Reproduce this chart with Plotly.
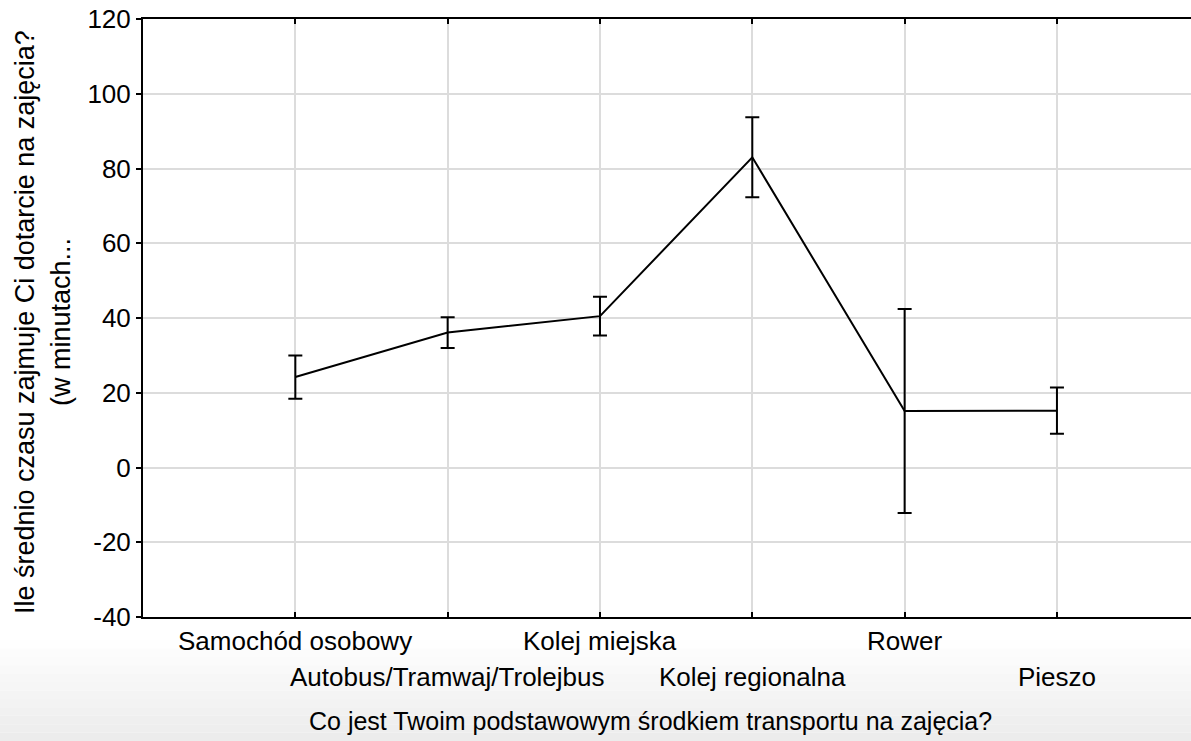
import plotly.graph_objects as go

categories = ["Samochód osobowy", "Autobus/Tramwaj/Trolejbus", "Kolej miejska",
              "Kolej regionalna", "Rower", "Pieszo"]
means = [24.2, 36.1, 40.5, 83.0, 15.1, 15.2]
errors = [5.8, 4.1, 5.2, 10.7, 27.3, 6.2]
y_ticks = [-40, -20, 0, 20, 40, 60, 80, 100, 120]
x_title = "Co jest Twoim podstawowym środkiem transportu na zajęcia?"
y_title_lines = ["Ile średnio czasu zajmuje Ci dotarcie na zajęcia?", "(w minutach..."]

positions = list(range(1, len(categories) + 1))
FONT = "Liberation Sans, Arial, sans-serif"
FS = 26

fig = go.Figure()
fig.add_trace(go.Scatter(
    x=positions, y=means, mode="lines",
    line=dict(color="black", width=2),
    error_y=dict(type="data", array=errors, visible=True,
                 color="black", thickness=2, width=7),
    showlegend=False, hoverinfo="skip",
))

shapes = []
# faint grey gradient at the bottom of the page
n = 12
top_px, bot_px = 640, 741
plot_top, plot_bot = 19, 617
h = plot_bot - plot_top
for i in range(n):
    y0p = top_px + (bot_px - top_px) * i / n
    y1p = top_px + (bot_px - top_px) * (i + 1) / n
    g = int(255 - (255 - 236) * (i + 0.5) / n)
    shapes.append(dict(type="rect", xref="paper", yref="paper",
                       x0=-0.2, x1=1.05,
                       y0=-(y1p - plot_bot) / h, y1=-(y0p - plot_bot) / h,
                       fillcolor=f"rgb({g},{g},{g})", line=dict(width=0),
                       layer="below"))

annotations = []
for i, (p, c) in enumerate(zip(positions, categories)):
    annotations.append(dict(x=p, y=0, xref="x", yref="paper", text=c,
                            showarrow=False, yanchor="middle", xanchor="center",
                            yshift=-24 if i % 2 == 0 else -60,
                            font=dict(family=FONT, size=FS, color="black")))
annotations.append(dict(x=(650 - 143) / 1048, y=0, xref="paper", yref="paper",
                        text=x_title, showarrow=False, yanchor="middle",
                        xanchor="center", yshift=-104,
                        font=dict(family=FONT, size=25, color="black")))
for line, shift in zip(y_title_lines, [-118, -82]):
    annotations.append(dict(x=0, y=(617 - 322) / 598, xref="paper", yref="paper",
                            text=line, showarrow=False, textangle=-90,
                            xanchor="center", yanchor="middle", xshift=shift,
                            font=dict(family=FONT, size=27, color="black")))

fig.update_layout(
    width=1191, height=741,
    margin=dict(l=143, r=0, t=19, b=124),
    paper_bgcolor="white", plot_bgcolor="rgba(0,0,0,0)",
    shapes=shapes, annotations=annotations,
    font=dict(family=FONT, size=FS, color="black"),
)
fig.update_xaxes(
    range=[0, 6.88], tickvals=positions, showticklabels=False,
    showgrid=True, gridcolor="#dcdcdc", gridwidth=2,
    showline=True, linecolor="black", linewidth=2, mirror="ticks",
    ticks="inside", ticklen=5, tickcolor="black", tickwidth=2, zeroline=False,
)
fig.update_yaxes(
    range=[-40, 120], tickvals=y_ticks, ticktext=[str(v) for v in y_ticks],
    showgrid=True, gridcolor="#dcdcdc", gridwidth=2,
    showline=True, linecolor="black", linewidth=2,
    ticks="outside", ticklen=5, tickcolor="black", tickwidth=2,
    zeroline=False, tickfont=dict(family=FONT, size=FS, color="black"),
)

fig.write_html("out.html")
